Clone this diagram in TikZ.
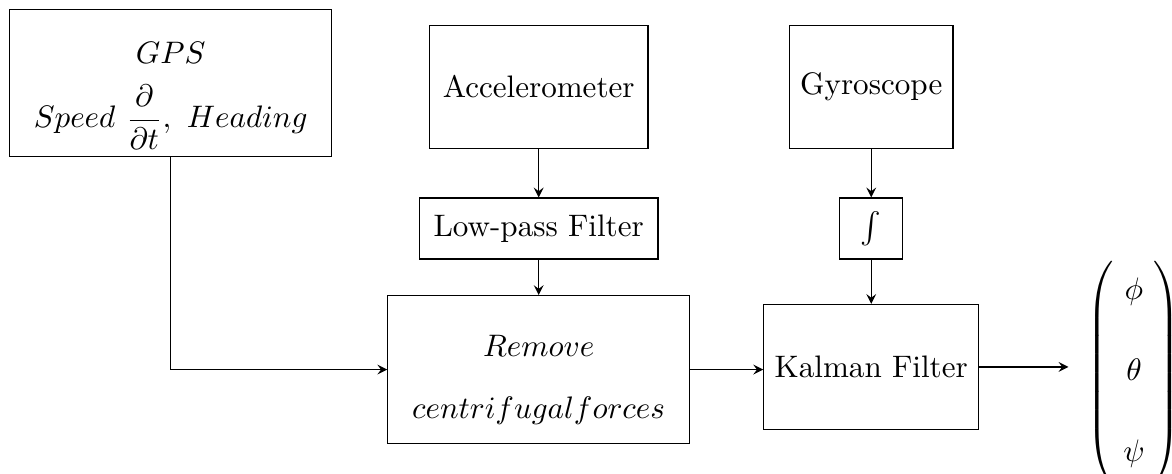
\documentclass[tikz,border=0pt]{standalone}
\usepackage{amsmath}
\usetikzlibrary{positioning}
\begin{document}
\begin{tikzpicture}[->, >=stealth, block/.style={draw, rectangle, inner sep=2pt}]
				\useasboundingbox (0,0) rectangle (13.25,-5.35);
				\node (gps) [block, minimum width=3.64cm, minimum height=1.66cm, align=center] at (1.93,-0.94) {\rule{0pt}{15pt}$GPS$\\[6pt] $Speed\ \dfrac{\partial}{\partial t},\ Heading$};
				\node (acc) [block, minimum width=2.47cm, minimum height=1.39cm] at (6.09,-0.98) {Accelerometer};
				\node (gyro) [block, minimum width=1.85cm, minimum height=1.39cm] at (9.85,-0.98) {Gyroscope};
				\node (lp) [block, minimum width=2.70cm, minimum height=0.69cm, below = 0.55cm of acc] {Low-pass Filter};
				\node (int) [block, minimum width=0.71cm, minimum height=0.69cm, below = 0.55cm of gyro] {$\int$};
				\node (rm) [block, minimum width=3.41cm, minimum height=1.67cm, align=center, below = 0.40cm of lp] {\rule{0pt}{13.5pt}$Remove$\\[8pt] $centrifugal forces$};
				\node (kf) [block, minimum width=2.43cm, minimum height=1.41cm, below = 0.50cm of int] {Kalman Filter};
				\node (out) [inner sep=0pt] at (12.82,-4.22) {$\left(\rule[-35pt]{0pt}{75pt}\arraycolsep=3pt\begin{array}{c}\phi\\[14pt] \theta\\[14pt] \psi\end{array}\right)$};
				\draw (acc) -> (lp);
				\draw (lp) -> (rm);
				\draw (gyro) -> (int);
				\draw (int) -> (kf);
				\draw (gps.south) |- (rm.west);
				\draw (rm.east) -> (kf.west |- rm.east);
				\draw (kf.east) -> ([xshift=-0.2cm]out.west |- kf.east);
			\end{tikzpicture}
\end{document}
